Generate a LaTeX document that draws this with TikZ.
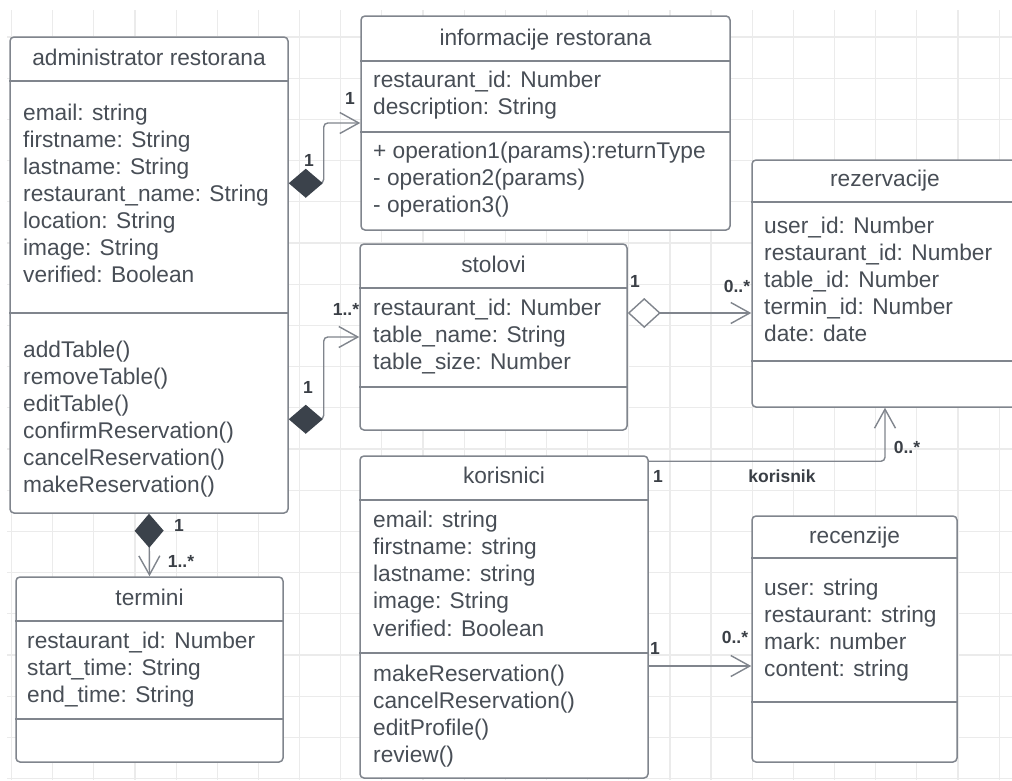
\documentclass[tikz,border=0pt]{standalone}
\usepackage{fontspec}
\setmainfont{Liberation Sans}
\usepackage{xcolor}
\usepackage{tikz}
\usetikzlibrary{arrows.meta,positioning,calc}
\definecolor{txtgray}{HTML}{484E56}
\definecolor{labgray}{HTML}{3A3F46}
\definecolor{linegray}{HTML}{80858D}
\definecolor{gridgray}{HTML}{EBEBEB}
\definecolor{diamgray}{HTML}{3B424B}
\tikzstyle{classbox} = [draw=linegray, line width=1.5pt, fill=white, rounded corners=4pt, inner sep=0pt]
\tikzstyle{divline} = [draw=linegray, line width=1.5pt]
\tikzstyle{attr} = [anchor=base west, inner sep=0pt, text=txtgray, font=\fontsize{22.7}{27}\selectfont]
\tikzstyle{clstitle} = [anchor=base, inner sep=0pt, text=txtgray, font=\fontsize{22.7}{27}\selectfont]
\tikzstyle{mult} = [inner sep=0pt, text=labgray, font=\fontsize{17.5}{20}\selectfont\bfseries]
\tikzstyle{assoc} = [draw=linegray, line width=1.4pt, -{Straight Barb[length=19pt,width=21pt]}]
\tikzstyle{compo} = [assoc, {Diamond[length=34pt,width=29pt,color=diamgray]}-{Straight Barb[length=19pt,width=21pt]}, rounded corners=4pt]
\tikzstyle{aggr} = [assoc, {Diamond[length=33pt,width=30pt,fill=white]}-{Straight Barb[length=19pt,width=21pt]}]
\tikzstyle{gridline} = [draw=gridgray, line width=1.2pt]

\begin{document}
\begin{tikzpicture}[x=1pt, y=-1pt]
    % Page and grid
    \useasboundingbox (0,0) rectangle (1012,780);
    \fill[white] (0,0) rectangle (1012,780);
    \clip (0,0) rectangle (1012,780);
    \foreach \gx in {0,...,24} \draw[gridline] ({11.5+41.15*\gx},10) -- ({11.5+41.15*\gx},780);
    \foreach \gy in {0,...,18} \draw[gridline] (7,{37+41.2*\gy}) -- (1012,{37+41.2*\gy});

    % Class: administrator restorana
    \node[classbox, minimum width=278pt, minimum height=476pt] (admin) at (149,275) {};
    \draw[divline] (admin.west |- 0,81) -- (admin.east |- 0,81);
    \draw[divline] (admin.west |- 0,313) -- (admin.east |- 0,313);
    \node[clstitle] (admint) at (149,65) {administrator restorana};
    \node[attr] (admina1) at (23,120) {email: string};
    \node[attr] (admina2) at (23,147) {firstname: String};
    \node[attr] (admina3) at (23,174) {lastname: String};
    \node[attr] (admina4) at (23,201) {restaurant\_name: String};
    \node[attr] (admina5) at (23,228) {location: String};
    \node[attr] (admina6) at (23,255) {image: String};
    \node[attr] (admina7) at (23,282) {verified: Boolean};
    \node[attr] (adminm1) at (23,357) {addTable()};
    \node[attr] (adminm2) at (23,384) {removeTable()};
    \node[attr] (adminm3) at (23,411) {editTable()};
    \node[attr] (adminm4) at (23,438) {confirmReservation()};
    \node[attr] (adminm5) at (23,465) {cancelReservation()};
    \node[attr] (adminm6) at (23,492) {makeReservation()};

    % Class: informacije restorana
    \node[classbox, minimum width=369pt, minimum height=214pt] (info) at (545.5,123) {};
    \draw[divline] (info.west |- 0,61) -- (info.east |- 0,61);
    \draw[divline] (info.west |- 0,132) -- (info.east |- 0,132);
    \node[clstitle] (infot) at (545.5,45) {informacije restorana};
    \node[attr] (infoa1) at (373,87) {restaurant\_id: Number};
    \node[attr] (infoa2) at (373,114) {description: String};
    \node[attr] (infom1) at (373,158) {+ operation1(params):returnType};
    \node[attr] (infom2) at (373,185) {- operation2(params)};
    \node[attr] (infom3) at (373,212) {- operation3()};

    % Class: rezervacije
    \node[classbox, minimum width=266pt, minimum height=247pt] (rez) at (885,283.5) {};
    \draw[divline] (rez.west |- 0,202) -- (rez.east |- 0,202);
    \draw[divline] (rez.west |- 0,361) -- (rez.east |- 0,361);
    \node[clstitle] (rezt) at (885,186) {rezervacije};
    \node[attr] (reza1) at (764,233) {user\_id: Number};
    \node[attr] (reza2) at (764,260) {restaurant\_id: Number};
    \node[attr] (reza3) at (764,287) {table\_id: Number};
    \node[attr] (reza4) at (764,314) {termin\_id: Number};
    \node[attr] (reza5) at (764,341) {date: date};

    % Class: stolovi
    \node[classbox, minimum width=267pt, minimum height=186pt] (stol) at (493.5,337) {};
    \draw[divline] (stol.west |- 0,288) -- (stol.east |- 0,288);
    \draw[divline] (stol.west |- 0,387) -- (stol.east |- 0,387);
    \node[clstitle] (stolt) at (493.5,272) {stolovi};
    \node[attr] (stola1) at (373,315) {restaurant\_id: Number};
    \node[attr] (stola2) at (373,342) {table\_name: String};
    \node[attr] (stola3) at (373,369) {table\_size: Number};

    % Class: korisnici
    \node[classbox, minimum width=288pt, minimum height=322pt] (kor) at (504,617) {};
    \draw[divline] (kor.west |- 0,500) -- (kor.east |- 0,500);
    \draw[divline] (kor.west |- 0,653) -- (kor.east |- 0,653);
    \node[clstitle] (kort) at (504,483) {korisnici};
    \node[attr] (kora1) at (373,527) {email: string};
    \node[attr] (kora2) at (373,554) {firstname: string};
    \node[attr] (kora3) at (373,581) {lastname: string};
    \node[attr] (kora4) at (373,608) {image: String};
    \node[attr] (kora5) at (373,636) {verified: Boolean};
    \node[attr] (korm1) at (373,681) {makeReservation()};
    \node[attr] (korm2) at (373,708) {cancelReservation()};
    \node[attr] (korm3) at (373,735) {editProfile()};
    \node[attr] (korm4) at (373,762) {review()};

    % Class: recenzije
    \node[classbox, minimum width=205pt, minimum height=246pt] (rec) at (854.5,639) {};
    \draw[divline] (rec.west |- 0,558) -- (rec.east |- 0,558);
    \draw[divline] (rec.west |- 0,702) -- (rec.east |- 0,702);
    \node[clstitle] (rect) at (854.5,543) {recenzije};
    \node[attr] (reca1) at (764,595) {user: string};
    \node[attr] (reca2) at (764,622) {restaurant: string};
    \node[attr] (reca3) at (764,649) {mark: number};
    \node[attr] (reca4) at (764,676) {content: string};

    % Class: termini
    \node[classbox, minimum width=267pt, minimum height=185pt] (term) at (149.5,669.5) {};
    \draw[divline] (term.west |- 0,621) -- (term.east |- 0,621);
    \draw[divline] (term.west |- 0,719) -- (term.east |- 0,719);
    \node[clstitle] (termt) at (149.5,605) {termini};
    \node[attr] (terma1) at (27,648) {restaurant\_id: Number};
    \node[attr] (terma2) at (27,675) {start\_time: String};
    \node[attr] (terma3) at (27,702) {end\_time: String};

    % Compositions from administrator
    \draw[compo] ([yshift=-147pt]admin.north east) -- ++(35,0) |- (info.west);
    \draw[compo] ([yshift=-383pt]admin.north east) -- ++(35,0) |- (stol.west);
    \draw[compo] (admin.south) -- (term.north);

    % Aggregation and associations
    \coordinate (stolr) at ([yshift=24pt]stol.east);
    \draw[aggr] (stolr) -- (stolr -| rez.west);
    \coordinate (kortop) at ([yshift=-6pt]kor.north east);
    \draw[assoc, rounded corners=4pt] (kortop) -| (rez.south);
    \coordinate (korrec) at ([yshift=-49pt]kor.east);
    \draw[assoc] (korrec) -- (korrec -| rec.west);

    % Multiplicities
    \node[mult] (m1) at (350,98) {1};
    \node[mult] (m2) at (309,160) {1};
    \node[mult] (m3) at (308,387) {1};
    \node[mult] (m4) at (346,309) {1..*};
    \node[mult] (m5) at (179,525) {1};
    \node[mult] (m6) at (181,561) {1..*};
    \node[mult] (m7) at (635,281) {1};
    \node[mult] (m8) at (737,286) {0..*};
    \node[mult] (m9) at (658,476) {1};
    \node[mult] (m10) at (782,476) {korisnik};
    \node[mult] (m11) at (907,447) {0..*};
    \node[mult] (m12) at (655,648) {1};
    \node[mult] (m13) at (735,637) {0..*};
\end{tikzpicture}
\end{document}
